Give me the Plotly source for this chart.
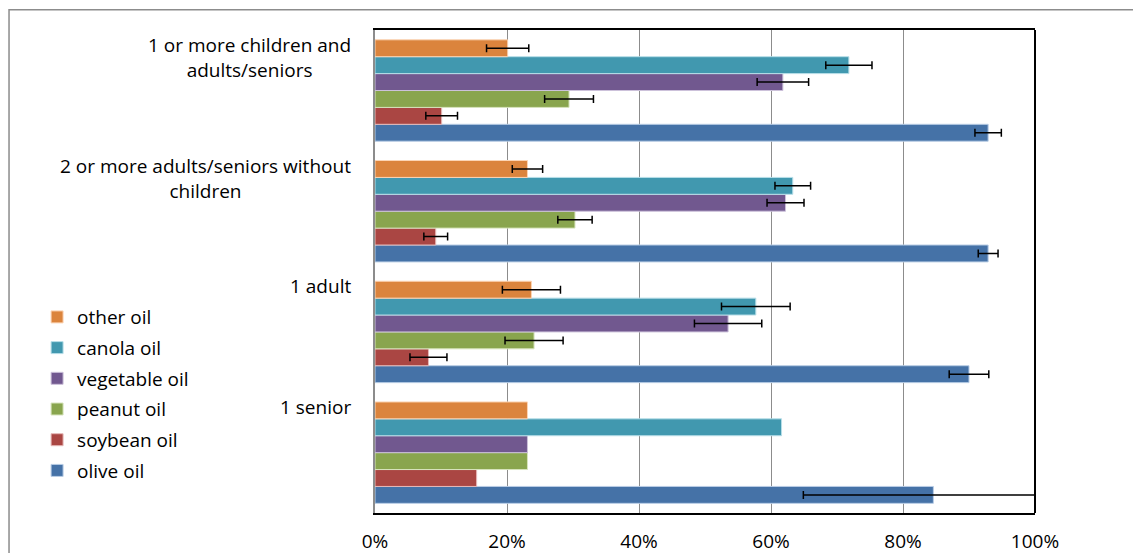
import plotly.graph_objects as go

# ---- data ----
categories = ["1 senior", "1 adult",
              "2 or more adults/seniors without<br>children",
              "1 or more children and<br>adults/seniors"]
series_names = ["olive oil", "soybean oil", "peanut oil", "vegetable oil", "canola oil", "other oil"]
olive_oil = [84.6, 90.0, 92.9, 92.9]
olive_err = [19.7, 3.0, 1.5, 2.0]
soybean_oil = [15.4, 8.1, 9.2, 10.1]
soybean_err = [None, 2.8, 1.8, 2.4]
peanut_oil = [23.1, 24.1, 30.3, 29.4]
peanut_err = [None, 4.4, 2.6, 3.7]
vegetable_oil = [23.1, 53.5, 62.2, 61.8]
vegetable_err = [None, 5.1, 2.8, 3.9]
canola_oil = [61.6, 57.7, 63.3, 71.8]
canola_err = [None, 5.2, 2.7, 3.5]
other_oil = [23.1, 23.7, 23.1, 20.1]
other_err = [None, 4.4, 2.3, 3.2]
x_ticks = [0, 20, 40, 60, 80, 100]
x_tick_labels = ["0%", "20%", "40%", "60%", "80%", "100%"]

values = [olive_oil, soybean_oil, peanut_oil, vegetable_oil, canola_oil, other_oil]
errors = [olive_err, soybean_err, peanut_err, vegetable_err, canola_err, other_err]
colors = ["#4572A7", "#AA4643", "#89A54E", "#71588F", "#4198AF", "#DB843D"]
edge = ["#B9CDE5", "#E6B9B8", "#D7E4BD", "#CCC1DA", "#B7DEE8", "#FCD5B5"]

FONT = "Open Sans"
FS = 19

fig = go.Figure()
n = len(series_names)
for i, (name, v, e, c, ec) in enumerate(zip(series_names, values, errors, colors, edge)):
    with_err = [(cat, val, err) for cat, val, err in zip(categories, v, e) if err is not None]
    no_err = [(cat, val) for cat, val, err in zip(categories, v, e) if err is None]
    fig.add_trace(go.Bar(
        y=[t[0] for t in with_err], x=[t[1] for t in with_err], name=name,
        orientation="h", offsetgroup=name, legendgroup=name, legendrank=n - i,
        marker=dict(color=c, line=dict(color=ec, width=1)),
        error_x=dict(type="data", array=[t[2] for t in with_err], visible=True,
                     color="black", thickness=1.5, width=4),
    ))
    if no_err:
        fig.add_trace(go.Bar(
            y=[t[0] for t in no_err], x=[t[1] for t in no_err], name=name,
            orientation="h", offsetgroup=name, legendgroup=name, showlegend=False,
            legendrank=n - i,
            marker=dict(color=c, line=dict(color=ec, width=1)),
        ))

for cat in categories:
    fig.add_annotation(x=-0.033, xref="paper", y=cat, yref="y", yshift=60.5,
                       text=cat, showarrow=False, xanchor="right", yanchor="top",
                       align="center", font=dict(family=FONT, size=FS, color="black"))

fig.update_layout(
    width=1133, height=553,
    margin=dict(l=375, r=98, t=30, b=40, autoexpand=False),
    barmode="group", bargap=0.16, bargroupgap=0,
    plot_bgcolor="white", paper_bgcolor="white",
    font=dict(family=FONT, size=FS, color="black"),
    legend=dict(x=-0.512, y=0.445, xanchor="left", yanchor="top",
                traceorder="grouped", font=dict(family=FONT, size=FS),
                bgcolor="rgba(0,0,0,0)", itemwidth=30, tracegroupgap=3),
    xaxis=dict(range=[0, 100], tickvals=x_ticks, ticktext=x_tick_labels,
               showgrid=True, gridcolor="#8C8C8C", gridwidth=1,
               showline=True, linecolor="black", linewidth=2, mirror=True,
               ticks="", ticklabelstandoff=10, zeroline=False, automargin=False,
               tickfont=dict(family=FONT, size=FS)),
    yaxis=dict(showticklabels=False, showline=True, linecolor="#8C8C8C",
               linewidth=1.5, ticks="", showgrid=False, automargin=False),
    shapes=[
        dict(type="line", xref="x domain", yref="y domain", x0=1, x1=1, y0=0, y1=1,
             line=dict(color="black", width=2)),
        dict(type="rect", xref="paper", yref="paper", x0=-0.5545, x1=1.2,
             y0=-0.2, y1=1.042, line=dict(color="#8C8C8C", width=1.5), layer="below"),
    ],
)

fig.write_html("out.html", config={"displayModeBar": False},
               post_script="document.body.style.margin='0';")
